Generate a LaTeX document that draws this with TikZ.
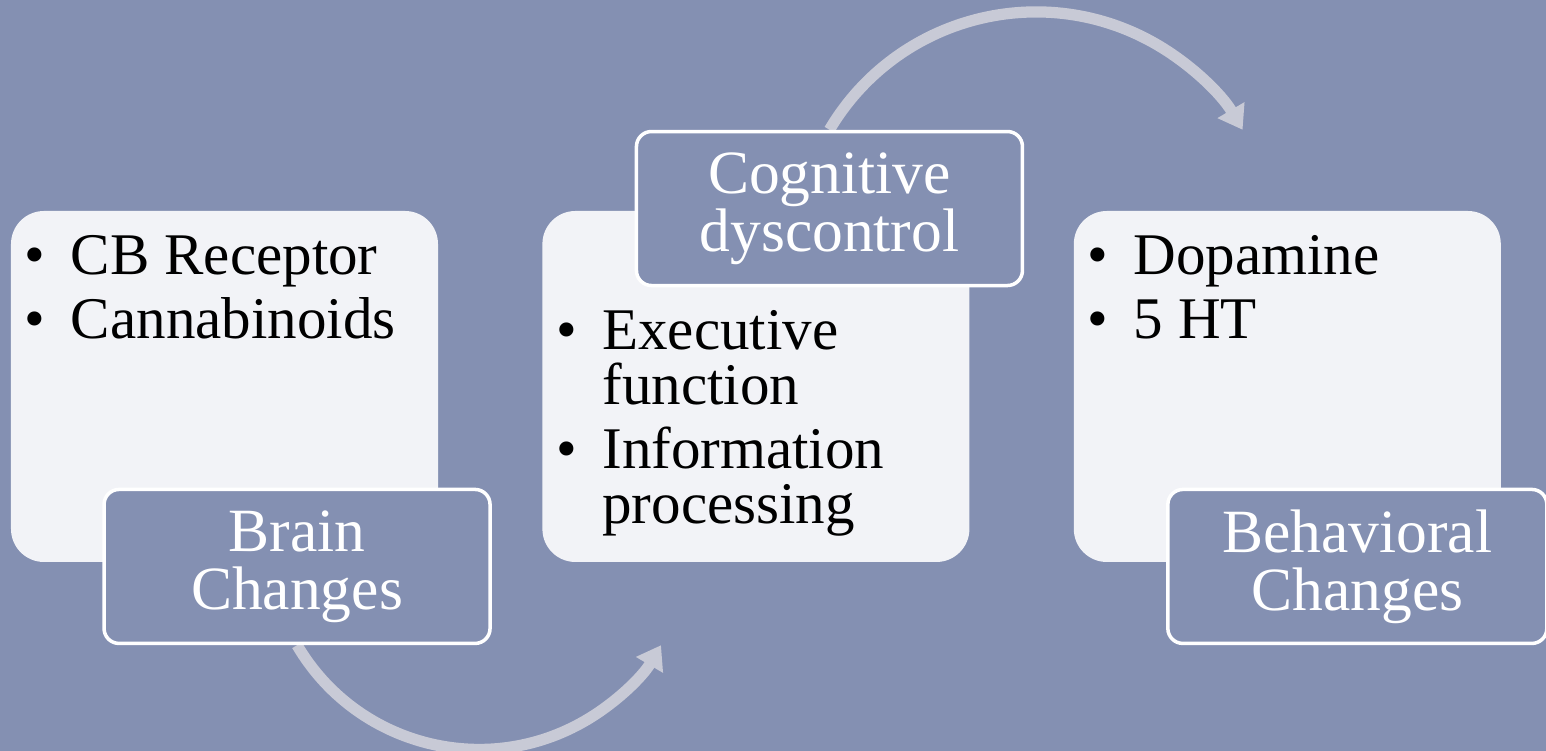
\documentclass[tikz,border=0pt]{standalone}
\usepackage{fontspec}
\setmainfont{Liberation Serif}
\usepackage{xcolor}
\usepackage{tikz}
\usetikzlibrary{arrows.meta,positioning}
\definecolor{cyBack}{HTML}{8490B2}
\definecolor{cyPale}{HTML}{F2F3F7}
\definecolor{cyArc}{HTML}{C8CAD6}
\pgfdeclarelayer{back}
\pgfsetlayers{back,main}
\newcommand{\bulletline}[1]{\hangindent=4.6mm\hangafter=1\noindent\makebox[4.6mm][l]{\textbullet}#1\par}
\tikzset{
  info box/.style={fill=cyPale,rounded corners=3.3mm,minimum width=4.27cm,minimum height=3.51cm,inner sep=0pt},
  tag box/.style={draw=white,line width=1pt,fill=cyBack,rounded corners=1.5mm,minimum width=3.86cm,
    minimum height=1.54cm,inner sep=0pt,text=white,align=center,font=\fontsize{17.5}{16.5}\selectfont},
  item list/.style={anchor=base west,inner sep=0pt,text width=4cm,align=flush left,
    font=\fontsize{16.8}{15.6}\selectfont,execute at begin node={\setlength{\parskip}{2.8pt}}},
  cycle arrow/.style={-{Triangle[length=6.5pt,width=8.5pt]},line width=3.2pt,draw=cyArc}
}
\begin{document}
\begin{tikzpicture}[node distance=1.03cm]
\useasboundingbox (0,0) rectangle (15.46,7.51);
\begin{pgfonlayer}{back}
\fill[cyBack] (0,0) rectangle (15.46,7.51);
\end{pgfonlayer}
% three stages
\node[info box] (brain) at (2.245,3.645) {};
\node[info box,right=of brain] (cog) {};
\node[info box,right=of cog] (behav) {};
\node[item list] (brainlist) at ([shift={(0.14,-0.64)}]brain.north west)
  {\bulletline{CB Receptor}\bulletline{Cannabinoids}};
\node[item list] (coglist) at ([shift={(0.14,-1.39)}]cog.north west)
  {\bulletline{Executive\newline function}\bulletline{Information\newline processing}};
\node[item list] (behavlist) at ([shift={(0.14,-0.64)}]behav.north west)
  {\bulletline{Dopamine}\bulletline{5 HT}};
% stage titles
\node[tag box,anchor=north west] (brainlbl) at ([shift={(0.92,0.75)}]brain.south west) {Brain\\Changes};
\node[tag box,anchor=south west] (coglbl) at ([shift={(0.93,-0.77)}]cog.north west) {Cognitive\\dyscontrol};
\node[tag box,anchor=north west,minimum width=3.79cm] (behavlbl) at ([shift={(0.93,0.75)}]behav.south west) {Behavioral\\Changes};
\begin{pgfonlayer}{back}
\draw[cycle arrow] (brainlbl.south) arc[start angle=210.4,end angle=329.6,radius=2.11cm];
\draw[cycle arrow] (coglbl.north) arc[start angle=149.4,end angle=30.6,radius=2.4cm];
\end{pgfonlayer}
\end{tikzpicture}
\end{document}
